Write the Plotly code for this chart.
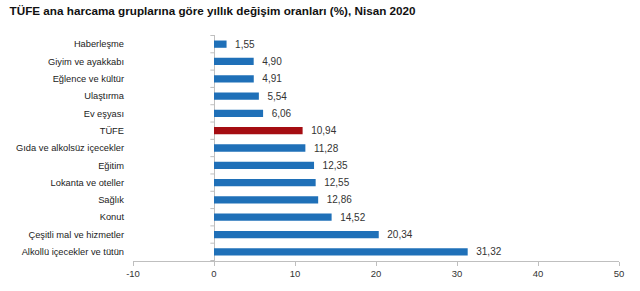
import plotly.graph_objects as go

categories = ["Haberleşme", "Giyim ve ayakkabı", "Eğlence ve kültür", "Ulaştırma",
              "Ev eşyası", "TÜFE", "Gıda ve alkolsüz içecekler", "Eğitim",
              "Lokanta ve oteller", "Sağlık", "Konut", "Çeşitli mal ve hizmetler",
              "Alkollü içecekler ve tütün"]
values = [1.55, 4.90, 4.91, 5.54, 6.06, 10.94, 11.28, 12.35, 12.55, 12.86, 14.52, 20.34, 31.32]
x_ticks = [-10, 0, 10, 20, 30, 40, 50]

BLUE = "#1F70B8"
RED = "#A50D12"
colors = [RED if c == "TÜFE" else BLUE for c in categories]
labels = ["  " + f"{v:.2f}".replace(".", ",") for v in values]

fig = go.Figure(go.Bar(
    x=values, y=categories, orientation="h",
    marker=dict(color=colors, line=dict(width=0)),
    text=labels, textposition="outside", constraintext="none",
    textfont=dict(family="Liberation Sans, Arial", size=10, color="#333333"),
    cliponaxis=False,
))

# small tick marks on the zero line between categories
n = len(categories)
for i in range(n + 1):
    fig.add_shape(type="line", xref="x", yref="y",
                  x0=0, x1=-0.45, y0=i - 0.5, y1=i - 0.5,
                  line=dict(color="#BFBFBF", width=1))

fig.update_layout(
    width=640, height=291,
    margin=dict(l=133, r=21, t=35, b=28),
    paper_bgcolor="white", plot_bgcolor="white",
    bargap=0.58,
    showlegend=False,
    title=dict(text="<b>TÜFE ana harcama gruplarına göre yıllık değişim oranları (%), Nisan 2020</b>",
               x=0.015, xanchor="left", y=0.975, yanchor="top",
               font=dict(family="Liberation Sans, Arial", size=11.7, color="#111111")),
)
fig.update_xaxes(
    range=[-10, 50], tickvals=x_ticks, ticktext=[str(t) for t in x_ticks],
    showgrid=False, zeroline=True, zerolinecolor="#BFBFBF", zerolinewidth=1,
    showline=True, linecolor="#BFBFBF", linewidth=1,
    ticks="outside", ticklen=4, tickcolor="#BFBFBF",
    tickfont=dict(family="Liberation Sans, Arial", size=9.5, color="#333333"),
)
fig.update_yaxes(
    categoryorder="array", categoryarray=categories, autorange="reversed",
    showgrid=False, showline=False, ticks="",
    ticklabelstandoff=8,
    tickfont=dict(family="Liberation Sans, Arial", size=9.3, color="#222222"),
)

fig.write_html("out.html")
